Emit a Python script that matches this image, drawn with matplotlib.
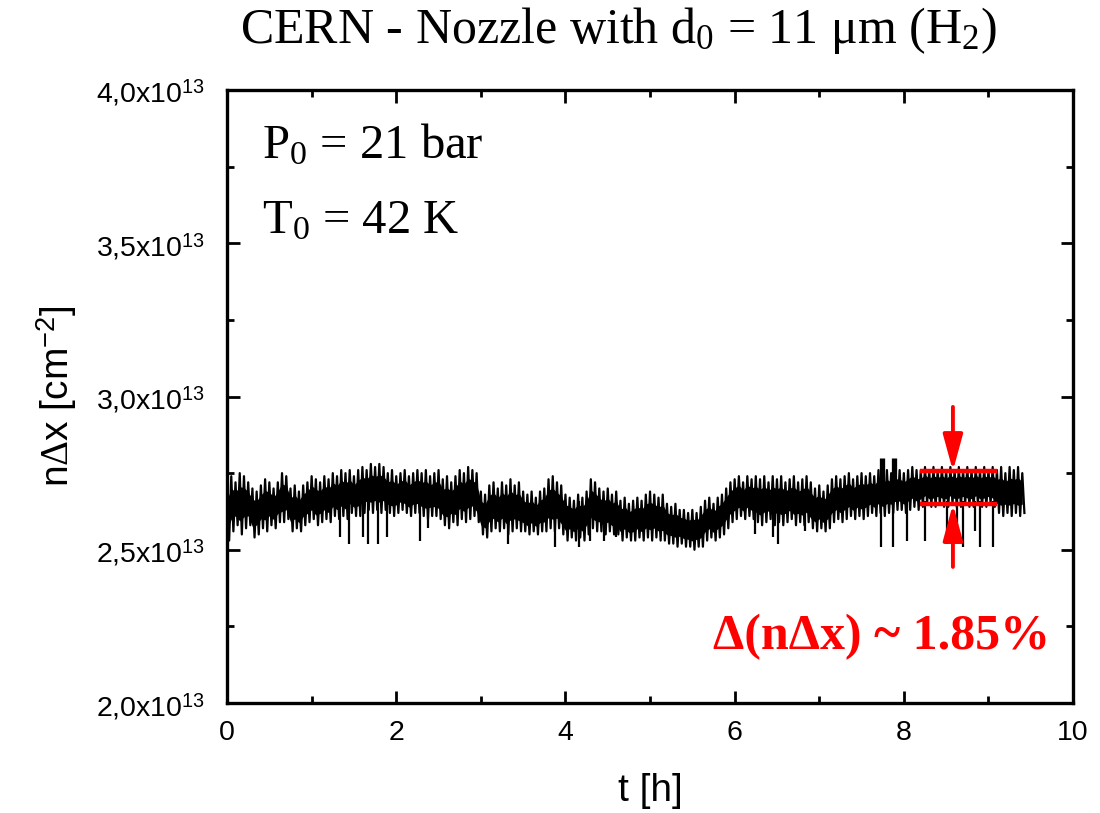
import numpy as np
import matplotlib
matplotlib.use("Agg")
import matplotlib.pyplot as plt
from matplotlib.ticker import MultipleLocator, FuncFormatter

plt.rcParams['font.family'] = ['Liberation Sans', 'DejaVu Sans']
plt.rcParams['mathtext.fontset'] = 'custom'
plt.rcParams['mathtext.rm'] = 'Liberation Serif'
plt.rcParams['mathtext.it'] = 'Liberation Serif:italic'
plt.rcParams['mathtext.sf'] = 'Liberation Sans'

SCALE = 1e13
t_start, t_step = 0.0, 0.05

# upper / lower noise envelope of the trace (units of 1e13 cm^-2), every 0.05 h
hi = [2.70, 2.74, 2.72, 2.75, 2.74, 2.72, 2.70, 2.69,
      2.71, 2.73, 2.72, 2.70, 2.72, 2.75, 2.74, 2.70, 2.71, 2.69, 2.71,
      2.72, 2.74, 2.73, 2.72, 2.74, 2.73,
      2.75, 2.74, 2.76, 2.75, 2.76, 2.74, 2.76,
      2.77, 2.76, 2.78, 2.77, 2.78, 2.77,
      2.75, 2.76, 2.74, 2.75, 2.76, 2.74, 2.75, 2.76,
      2.75, 2.76, 2.74, 2.75, 2.76,
      2.73, 2.74, 2.72, 2.74,
      2.76, 2.75, 2.77, 2.76, 2.75,
      2.69, 2.68,
      2.71, 2.72, 2.70, 2.72, 2.71, 2.73, 2.71, 2.72,
      2.69, 2.68, 2.69, 2.67, 2.69, 2.70,
      2.73, 2.74, 2.72, 2.71,
      2.68, 2.67, 2.66, 2.68, 2.67, 2.69,
      2.73, 2.72,
      2.70, 2.69, 2.70, 2.68, 2.69,
      2.66, 2.67, 2.65, 2.66, 2.67, 2.66,
      2.68, 2.69, 2.68, 2.67, 2.68,
      2.65, 2.64, 2.65, 2.63,
      2.63, 2.62, 2.63, 2.62, 2.64,
      2.66, 2.67, 2.65, 2.67, 2.68,
      2.70, 2.72, 2.73, 2.74, 2.72, 2.74, 2.73,
      2.74, 2.73, 2.74, 2.72, 2.74, 2.73, 2.74, 2.72, 2.73, 2.74, 2.72, 2.73, 2.74, 2.72,
      2.70, 2.71, 2.69, 2.71,
      2.73, 2.74, 2.73, 2.74, 2.75, 2.73, 2.74, 2.75, 2.74, 2.75, 2.74,
      2.76, 2.75, 2.76, 2.75, 2.76,
      2.76, 2.75, 2.76, 2.77, 2.76,
      2.76, 2.77, 2.76, 2.77, 2.76, 2.77, 2.76, 2.77, 2.76, 2.77, 2.76, 2.77, 2.76, 2.77, 2.76, 2.77, 2.76, 2.77,
      2.76, 2.77, 2.75, 2.77, 2.76, 2.77, 2.75]
lo = [2.53, 2.56, 2.58, 2.55, 2.57, 2.58, 2.54, 2.55,
      2.57, 2.56, 2.58, 2.57, 2.59, 2.59, 2.60, 2.56, 2.57, 2.56, 2.58,
      2.59, 2.60, 2.58, 2.59, 2.60, 2.59,
      2.61, 2.60, 2.61, 2.60, 2.62, 2.61, 2.61,
      2.62, 2.63, 2.62, 2.63, 2.62, 2.63,
      2.62, 2.61, 2.62, 2.63, 2.62, 2.61, 2.62, 2.62,
      2.61, 2.60, 2.61, 2.61, 2.60,
      2.58, 2.57, 2.59, 2.58,
      2.60, 2.59, 2.60, 2.61, 2.59,
      2.55, 2.54,
      2.56, 2.57, 2.56, 2.57, 2.55, 2.56, 2.57, 2.56,
      2.56, 2.55, 2.56, 2.55, 2.56, 2.56,
      2.57, 2.56, 2.57, 2.55,
      2.53, 2.54, 2.53, 2.54, 2.53, 2.55,
      2.57, 2.56,
      2.56, 2.55, 2.56, 2.55, 2.55,
      2.53, 2.54, 2.53, 2.53, 2.54, 2.53,
      2.54, 2.53, 2.54, 2.53, 2.53,
      2.52, 2.52, 2.51, 2.52,
      2.51, 2.51, 2.50, 2.51, 2.51,
      2.53, 2.54, 2.53, 2.54, 2.55,
      2.57, 2.59, 2.60, 2.61, 2.60, 2.61, 2.60,
      2.59, 2.58, 2.59, 2.60, 2.58, 2.59, 2.58, 2.59, 2.60, 2.58, 2.59, 2.58, 2.59, 2.57,
      2.56, 2.57, 2.56, 2.57,
      2.59, 2.60, 2.59, 2.60, 2.61, 2.60, 2.61, 2.60, 2.61, 2.62, 2.61,
      2.62, 2.61, 2.62, 2.62, 2.63,
      2.63, 2.62, 2.63, 2.64, 2.63,
      2.64, 2.65, 2.64, 2.64, 2.65, 2.64, 2.64, 2.65, 2.64, 2.64, 2.65, 2.64, 2.64, 2.65, 2.64, 2.64, 2.65, 2.64,
      2.62, 2.61, 2.62, 2.61, 2.62, 2.61, 2.62]

# isolated downward spikes: time [h], minimum value (1e13)
spike_t = [1.34, 1.44, 1.61, 1.67, 1.79, 1.89, 2.28, 2.37, 3.32, 3.88, 4.16, 4.29,
           4.46, 4.60, 6.24, 6.45, 6.51, 6.83, 7.73, 7.87, 8.04, 8.25, 8.51,
           8.63, 8.70, 8.84, 8.90, 9.05]
spike_min = [2.54, 2.52, 2.54, 2.52, 2.52, 2.54, 2.53, 2.57, 2.52, 2.51, 2.51, 2.53,
             2.53, 2.54, 2.55, 2.54, 2.52, 2.56, 2.51, 2.51, 2.53, 2.53, 2.52,
             2.56, 2.51, 2.56, 2.51, 2.51]
spike_top = 2.66
# upward stubs
stub_t = [7.74, 7.88]
stub_max = [2.80, 2.80]

# red fluctuation band annotation
band_hi, band_lo = 2.757, 2.649
band_t0, band_t1 = 8.19, 9.10
arrow_t = 8.58
arrow_top, arrow_bot = 2.966, 2.444

hi = np.array(hi) * SCALE
lo = np.array(lo) * SCALE
n = len(hi)
t = t_start + t_step * np.arange(n)

tz = np.empty(2 * n)
yz = np.empty(2 * n)
tz[0::2] = t
tz[1::2] = t + t_step / 2
yz[0::2] = hi
yz[1::2] = lo

fig = plt.figure(figsize=(11, 8.13), dpi=100)
ax = fig.add_axes([0.2064, 0.1353, 0.7691, 0.754])

span = hi - lo
ax.fill_between(t, lo + 0.22 * span, hi - 0.22 * span, color='black', lw=0)
ax.plot(tz, yz, color='black', lw=1.6)
ax.vlines(spike_t, np.array(spike_min) * SCALE, spike_top * SCALE, color='black', lw=1.6)
ax.vlines(stub_t, spike_top * SCALE, np.array(stub_max) * SCALE, color='black', lw=3.8)

ax.hlines([band_hi * SCALE, band_lo * SCALE], band_t0, band_t1, color='red', lw=3.2)
ap = dict(arrowstyle='-|>,head_length=2.2,head_width=0.6', color='red', lw=2.8,
          shrinkA=0, shrinkB=0)
ax.annotate('', xy=(arrow_t, band_hi * SCALE), xytext=(arrow_t, arrow_top * SCALE), arrowprops=ap)
ax.annotate('', xy=(arrow_t, band_lo * SCALE), xytext=(arrow_t, arrow_bot * SCALE), arrowprops=ap)

ax.set_xlim(0, 10)
ax.set_ylim(2.0e13, 4.0e13)
ax.xaxis.set_major_locator(MultipleLocator(2))
ax.xaxis.set_minor_locator(MultipleLocator(1))
ax.yaxis.set_major_locator(MultipleLocator(0.5e13))
ax.yaxis.set_minor_locator(MultipleLocator(0.25e13))

def yfmt(v, pos):
    s = f"{v / SCALE:.1f}".replace('.', ',')
    return s + r"x10$^{\mathsf{13}}$"

ax.yaxis.set_major_formatter(FuncFormatter(yfmt))
ax.tick_params(which='both', direction='in', top=True, right=True, width=2.0)
ax.tick_params(which='major', length=9)
ax.tick_params(which='minor', length=5)
ax.tick_params(axis='y', which='major', labelsize=20.5, pad=16)
ax.tick_params(axis='x', which='major', labelsize=20.5, pad=12)
for sp in ax.spines.values():
    sp.set_linewidth(2.4)

ax.set_xlabel('t [h]', fontsize=28, labelpad=20)
ax.set_ylabel(r'n$\Delta$x [cm$^{\mathsf{-2}}$]', fontsize=28, labelpad=12)

fig.text(0.562, 0.962, r'CERN - Nozzle with d$_{\mathrm{0}}$ = 11 μm (H$_{\mathrm{2}}$)',
         ha='center', va='center', fontsize=36, family='Liberation Serif')
ax.text(0.41, 3.82e13, r'P$_{\mathrm{0}}$ = 21 bar', ha='left', va='center', fontsize=35,
        family='Liberation Serif')
ax.text(0.41, 3.57e13, r'T$_{\mathrm{0}}$ = 42 K', ha='left', va='center', fontsize=35,
        family='Liberation Serif')
ax.text(7.74, 2.215e13, 'Δ(nΔx) ~ 1.85%', ha='center', va='center', fontsize=36,
        family='Liberation Serif', weight='bold', color='red')

fig.savefig('out.png', dpi=100)
